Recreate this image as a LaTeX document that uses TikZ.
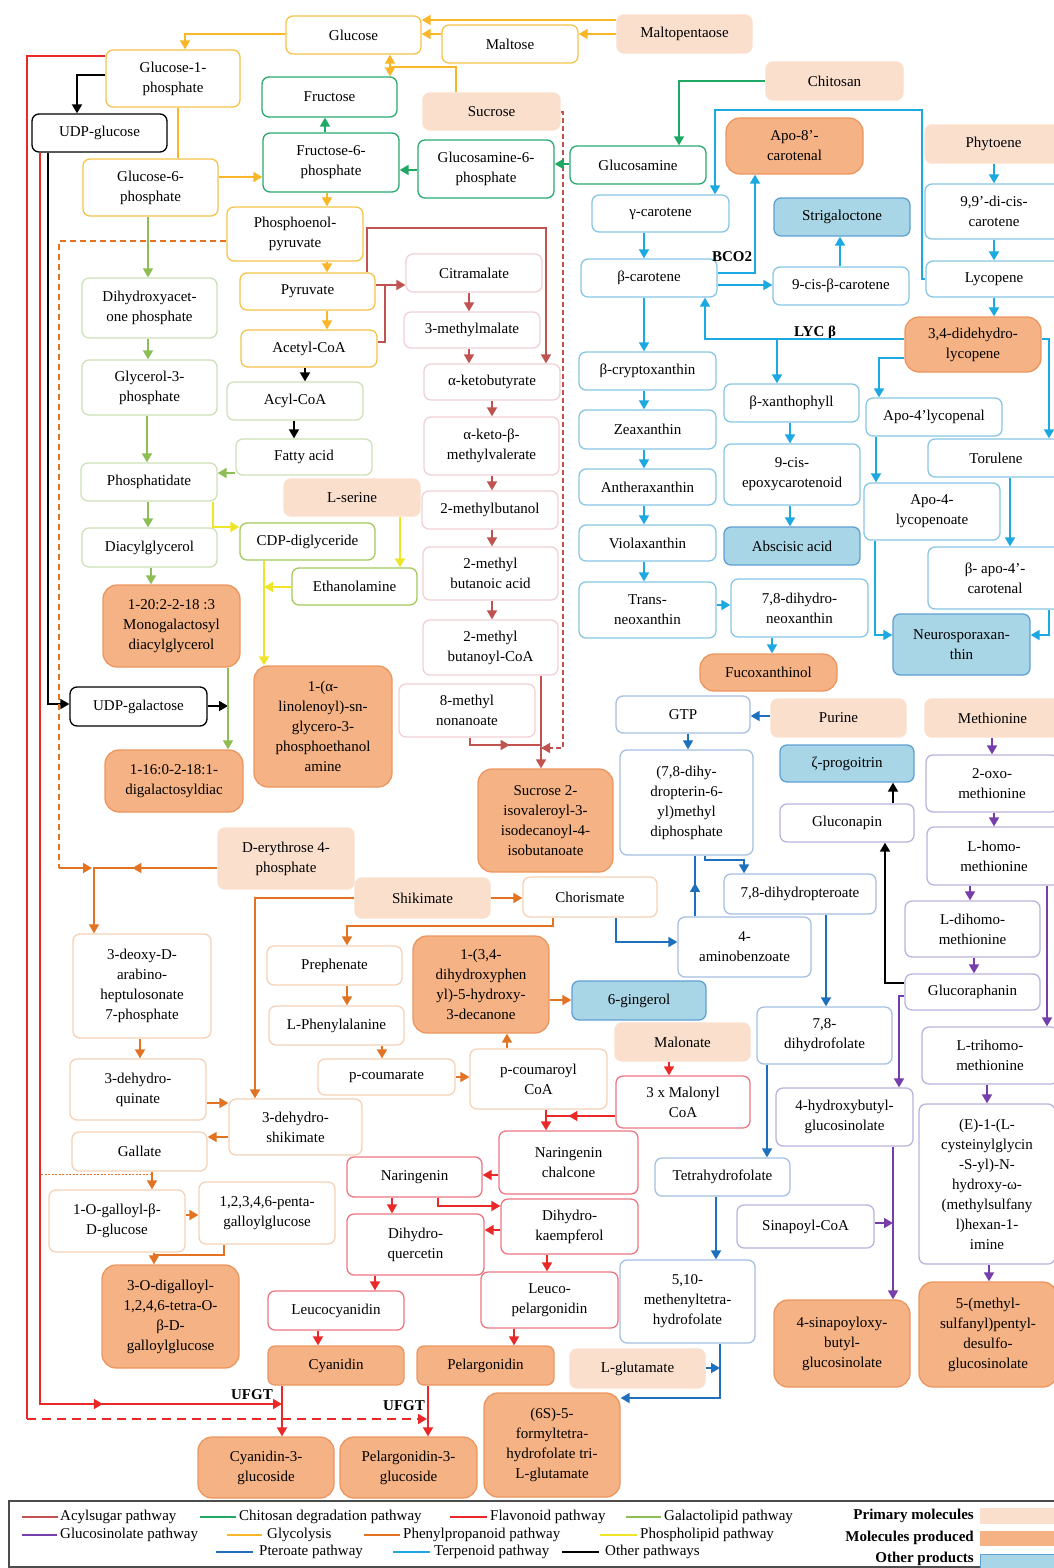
\documentclass[tikz,border=0pt]{standalone}
\usepackage{fontspec}
\setmainfont{Liberation Serif}
\usetikzlibrary{arrows.meta,decorations.markings}
\definecolor{cGly}{RGB}{248,182,40}
\definecolor{cChi}{RGB}{30,168,100}
\definecolor{cGal}{RGB}{140,190,85}
\definecolor{cAcy}{RGB}{192,82,80}
\definecolor{cFla}{RGB}{235,40,40}
\definecolor{cTer}{RGB}{28,168,225}
\definecolor{cPte}{RGB}{30,112,190}
\definecolor{cGls}{RGB}{118,62,170}
\definecolor{cPhe}{RGB}{226,115,35}
\definecolor{cPho}{RGB}{238,228,40}
\definecolor{cPrim}{RGB}{250,223,205}
\definecolor{cProd}{RGB}{245,178,132}
\definecolor{cProdB}{RGB}{236,150,95}
\definecolor{cOth}{RGB}{168,214,230}
\definecolor{cOthB}{RGB}{95,160,210}
\definecolor{bGly}{RGB}{245,195,75}
\definecolor{bChi}{RGB}{40,170,110}
\definecolor{bGal}{RGB}{205,225,185}
\definecolor{bPho}{RGB}{165,200,95}
\definecolor{bAcy}{RGB}{240,208,212}
\definecolor{bTer}{RGB}{135,198,228}
\definecolor{bPte}{RGB}{165,192,225}
\definecolor{bGls}{RGB}{188,178,222}
\definecolor{bPhe}{RGB}{245,210,182}
\definecolor{bFla}{RGB}{236,118,128}
\newcommand\dfont{\fontsize{15}{20}\selectfont}
\newcommand\bx[7]{\node[box,#6,minimum width={(#4-#2)*1pt},minimum height={(#5-#3)*1pt}] (#1) at ({(#2+#4)/2},{(#3+#5)/2}) {#7};}
\tikzset{
 box/.style={draw, rounded corners=7pt, line width=1.3pt, fill=white, align=center, inner sep=1pt, font=\dfont, text=black},
 kGly/.style={draw=bGly}, kChi/.style={draw=bChi}, kGal/.style={draw=bGal}, kPho/.style={draw=bPho},
 kAcy/.style={draw=bAcy}, kTer/.style={draw=bTer}, kPte/.style={draw=bPte}, kGls/.style={draw=bGls},
 kPhe/.style={draw=bPhe}, kFla/.style={draw=bFla}, kOth/.style={draw=black},
 kPrim/.style={draw=cPrim, fill=cPrim},
 kProd/.style={draw=cProdB, fill=cProd, rounded corners=14pt},
 kBlue/.style={draw=cOthB, fill=cOth},
 ln/.style={line width=1.8pt},
 ar/.style={ln, -{Triangle[length=9pt,width=10pt]}},
 aGly/.style={ar,color=cGly}, lGly/.style={ln,color=cGly},
 aChi/.style={ar,color=cChi},
 aGal/.style={ar,color=cGal},
 aPho/.style={ar,color=cPho}, lPho/.style={ln,color=cPho},
 aAcy/.style={ar,color=cAcy}, lAcy/.style={ln,color=cAcy},
 aFla/.style={ar,color=cFla}, lFla/.style={ln,color=cFla},
 aTer/.style={ar,color=cTer},
 aPte/.style={ar,color=cPte}, lPte/.style={ln,color=cPte},
 aGls/.style={ar,color=cGls},
 aPhe/.style={ar,color=cPhe}, lPhe/.style={ln,color=cPhe},
 aOth/.style={ar,color=black},
 midarrow/.style={postaction={decorate,decoration={markings,mark=at position #1 with {\arrow{Triangle[length=9pt,width=10pt]}}}}},
 lbl/.style={font=\dfont\bfseries, inner sep=0pt},
 leg/.style={font=\dfont, anchor=west, inner sep=0pt},
 legr/.style={font=\dfont\bfseries, anchor=east, inner sep=0pt},
 legl/.style={line width=2.4pt},
}
\begin{document}
\begin{tikzpicture}[x=1pt,y=-1pt]
\useasboundingbox (0,0) rectangle (1054,1568);
% ---------------- nodes ----------------
\bx{glc}{286}{16}{421}{54}{kGly}{Glucose}
\bx{mal}{442}{25}{578}{63}{kGly}{Maltose}
\bx{mpt}{617}{15}{752}{53}{kPrim}{Maltopentaose}
\bx{chi}{766}{62}{903}{100}{kPrim}{Chitosan}
\bx{g1p}{106}{50}{240}{107}{kGly}{Glucose-1-\\phosphate}
\bx{udpg}{32}{114}{167}{152}{kOth}{UDP-glucose}
\bx{fru}{262}{77}{397}{117}{kChi}{Fructose}
\bx{suc}{423}{93}{560}{130}{kPrim}{Sucrose}
\bx{f6p}{263}{133}{399}{192}{kChi}{Fructose-6-\\phosphate}
\bx{gn6p}{418}{140}{554}{198}{kChi}{Glucosamine-6-\\phosphate}
\bx{gn}{570}{146}{706}{184}{kChi}{Glucosamine}
\bx{apo8}{726}{118}{863}{174}{kProd}{Apo-8’-\\carotenal}
\bx{phy}{925}{125}{1062}{163}{kPrim}{Phytoene}
\bx{g6p}{83}{159}{218}{216}{kGly}{Glucose-6-\\phosphate}
\bx{pep}{227}{207}{363}{261}{kGly}{Phosphoenol-\\pyruvate}
\bx{gcar}{592}{195}{729}{232}{kTer}{γ-carotene}
\bx{strig}{774}{198}{910}{236}{kBlue}{Strigaloctone}
\bx{dicis}{925}{184}{1063}{239}{kTer}{9,9’-di-cis-\\carotene}
\bx{bcar}{581}{259}{717}{297}{kTer}{β-carotene}
\bx{cisb}{773}{267}{909}{305}{kTer}{9-cis-β-carotene}
\bx{lyc}{926}{261}{1062}{297}{kTer}{Lycopene}
\bx{dhlyc}{905}{317}{1041}{372}{kProd}{3,4-didehydro-\\lycopene}
\bx{dhap}{82}{278}{217}{338}{kGal}{Dihydroxyacet-\\one phosphate}
\bx{pyr}{240}{273}{375}{310}{kGly}{Pyruvate}
\bx{citr}{406}{254}{542}{292}{kAcy}{Citramalate}
\bx{acoa}{241}{330}{377}{367}{kGly}{Acetyl-CoA}
\bx{mm3}{404}{312}{540}{348}{kAcy}{3-methylmalate}
\bx{kbut}{424}{364}{560}{400}{kAcy}{α-ketobutyrate}
\bx{bcry}{579}{352}{716}{390}{kTer}{β-cryptoxanthin}
\bx{bxan}{724}{384}{859}{422}{kTer}{β-xanthophyll}
\bx{apo4al}{866}{398}{1002}{436}{kTer}{Apo-4’lycopenal}
\bx{g3p}{82}{360}{217}{415}{kGal}{Glycerol-3-\\phosphate}
\bx{acyl}{227}{382}{363}{420}{kGal}{Acyl-CoA}
\bx{fatty}{236}{439}{372}{475}{kGal}{Fatty acid}
\bx{pa}{81}{463}{217}{501}{kGal}{Phosphatidate}
\bx{ser}{284}{479}{420}{516}{kPrim}{L-serine}
\bx{kmv}{424}{417}{559}{475}{kAcy}{α-keto-β-\\methylvalerate}
\bx{mbol}{422}{491}{558}{529}{kAcy}{2-methylbutanol}
\bx{mbac}{423}{547}{558}{600}{kAcy}{2-methyl\\butanoic acid}
\bx{mbcoa}{423}{620}{558}{675}{kAcy}{2-methyl\\butanoyl-CoA}
\bx{mnon}{399}{684}{535}{737}{kAcy}{8-methyl\\nonanoate}
\bx{zea}{579}{410}{716}{449}{kTer}{Zeaxanthin}
\bx{anth}{579}{469}{716}{505}{kTer}{Antheraxanthin}
\bx{viol}{579}{525}{716}{561}{kTer}{Violaxanthin}
\bx{tneo}{579}{582}{716}{638}{kTer}{Trans-\\neoxanthin}
\bx{epox}{724}{444}{860}{505}{kTer}{9-cis-\\epoxycarotenoid}
\bx{aba}{724}{527}{860}{565}{kBlue}{Abscisic acid}
\bx{tor}{928}{439}{1064}{477}{kTer}{Torulene}
\bx{apo4oate}{864}{483}{1000}{540}{kTer}{Apo-4-\\lycopenoate}
\bx{bapo}{928}{547}{1062}{609}{kTer}{β- apo-4’-\\carotenal}
\bx{dhneo}{731}{579}{868}{637}{kTer}{7,8-dihydro-\\neoxanthin}
\bx{neuro}{893}{614}{1030}{675}{kBlue}{Neurosporaxan-\\thin}
\bx{fuco}{700}{654}{837}{691}{kProd}{Fucoxanthinol}
\bx{dag}{82}{528}{217}{567}{kGal}{Diacylglycerol}
\bx{cdp}{240}{523}{375}{560}{kPho}{CDP-diglyceride}
\bx{eth}{292}{568}{417}{605}{kPho}{Ethanolamine}
\bx{mgdg}{103}{585}{240}{667}{kProd}{1-20:2-2-18 :3\\Monogalactosyl\\diacylglycerol}
\bx{udpgal}{70}{687}{207}{726}{kOth}{UDP-galactose}
\bx{lin}{254}{666}{392}{787}{kProd}{1-(α-\\linolenoyl)-sn-\\glycero-3-\\phosphoethanol\\amine}
\bx{dgdg}{105}{750}{243}{812}{kProd}{1-16:0-2-18:1-\\digalactosyldiac}
\bx{suc2}{478}{769}{613}{872}{kProd}{Sucrose 2-\\isovaleroyl-3-\\isodecanoyl-4-\\isobutanoate}
\bx{gtp}{616}{696}{750}{733}{kPte}{GTP}
\bx{pur}{771}{699}{906}{737}{kPrim}{Purine}
\bx{met}{925}{699}{1060}{737}{kPrim}{Methionine}
\bx{prog}{780}{745}{914}{782}{kBlue}{ζ-progoitrin}
\bx{oxo}{926}{755}{1058}{812}{kGls}{2-oxo-\\methionine}
\bx{dpd}{620}{750}{753}{855}{kPte}{(7,8-dihy-\\dropterin-6-\\yl)methyl\\diphosphate}
\bx{gnap}{780}{804}{914}{842}{kGls}{Gluconapin}
\bx{hmet}{927}{827}{1061}{885}{kGls}{L-homo-\\methionine}
\bx{dhpt}{724}{874}{876}{914}{kPte}{7,8-dihydropteroate}
\bx{pab}{678}{917}{811}{977}{kPte}{4-\\aminobenzoate}
\bx{dhmet}{905}{901}{1040}{957}{kGls}{L-dihomo-\\methionine}
\bx{graph}{905}{974}{1040}{1010}{kGls}{Glucoraphanin}
\bx{dhf}{757}{1007}{892}{1064}{kPte}{7,8-\\dihydrofolate}
\bx{thmet}{922}{1027}{1058}{1084}{kGls}{L-trihomo-\\methionine}
\bx{hbg}{776}{1088}{913}{1146}{kGls}{4-hydroxybutyl-\\glucosinolate}
\bx{ecys}{919}{1104}{1055}{1264}{kGls}{(E)-1-(L-\\cysteinylglycin\\-S-yl)-N-\\hydroxy-ω-\\(methylsulfany\\l)hexan-1-\\imine}
\bx{sin}{737}{1205}{874}{1248}{kGls}{Sinapoyl-CoA}
\bx{sinb}{774}{1300}{910}{1387}{kProd}{4-sinapoyloxy-\\butyl-\\glucosinolate}
\bx{msp}{919}{1282}{1057}{1387}{kProd}{5-(methyl-\\sulfanyl)pentyl-\\desulfo-\\glucosinolate}
\bx{d4p}{218}{828}{354}{889}{kPrim}{D-erythrose 4-\\phosphate}
\bx{shik}{355}{878}{490}{918}{kPrim}{Shikimate}
\bx{chor}{523}{877}{657}{917}{kPhe}{Chorismate}
\bx{dahp}{73}{934}{211}{1038}{kPhe}{3-deoxy-D-\\arabino-\\heptulosonate\\7-phosphate}
\bx{preph}{267}{946}{402}{985}{kPhe}{Prephenate}
\bx{dhpd}{413}{936}{549}{1033}{kProd}{1-(3,4-\\dihydroxyphen\\yl)-5-hydroxy-\\3-decanone}
\bx{phe}{269}{1006}{404}{1045}{kPhe}{L-Phenylalanine}
\bx{ging}{572}{981}{706}{1020}{kBlue}{6-gingerol}
\bx{maln}{615}{1023}{750}{1061}{kPrim}{Malonate}
\bx{pcm}{318}{1059}{455}{1095}{kPhe}{p-coumarate}
\bx{pcoa}{470}{1049}{607}{1109}{kPhe}{p-coumaroyl\\CoA}
\bx{mcoa}{616}{1076}{750}{1128}{kFla}{3 x Malonyl\\CoA}
\bx{dhq}{70}{1059}{206}{1120}{kPhe}{3-dehydro-\\quinate}
\bx{dhs}{229}{1099}{362}{1155}{kPhe}{3-dehydro-\\shikimate}
\bx{gall}{72}{1132}{207}{1171}{kPhe}{Gallate}
\bx{nchal}{499}{1131}{638}{1194}{kFla}{Naringenin\\chalcone}
\bx{thf}{655}{1158}{790}{1196}{kPte}{Tetrahydrofolate}
\bx{nar}{347}{1157}{482}{1197}{kFla}{Naringenin}
\bx{ogal}{49}{1190}{185}{1252}{kPhe}{1-O-galloyl-β-\\D-glucose}
\bx{pgg}{199}{1182}{335}{1244}{kPhe}{1,2,3,4,6-penta-\\galloylglucose}
\bx{dhk}{501}{1199}{638}{1254}{kFla}{Dihydro-\\kaempferol}
\bx{dhqu}{347}{1214}{484}{1275}{kFla}{Dihydro-\\quercetin}
\bx{mthf}{620}{1260}{755}{1343}{kPte}{5,10-\\methenyltetra-\\hydrofolate}
\bx{lcy}{268}{1291}{404}{1330}{kFla}{Leucocyanidin}
\bx{lpel}{481}{1272}{618}{1328}{kFla}{Leuco-\\pelargonidin}
\bx{dgal}{102}{1265}{239}{1368}{kProd}{3-O-digalloyl-\\1,2,4,6-tetra-O-\\β-D-\\galloylglucose}
\bx{cya}{268}{1346}{404}{1385}{kProd,rounded corners=7pt}{Cyanidin}
\bx{pel}{417}{1346}{554}{1385}{kProd,rounded corners=7pt}{Pelargonidin}
\bx{glu}{570}{1349}{705}{1388}{kPrim}{L-glutamate}
\bx{fthf}{484}{1393}{620}{1497}{kProd}{(6S)-5-\\formyltetra-\\hydrofolate tri-\\L-glutamate}
\bx{c3g}{198}{1437}{334}{1498}{kProd}{Cyanidin-3-\\glucoside}
\bx{p3g}{340}{1437}{477}{1498}{kProd}{Pelargonidin-3-\\glucoside}
\node[lbl] (bco) at (732,257) {BCO2};
\node[lbl] (lycb) at (815,333) {LYC β};
\node[lbl] (ufgt1) at (252,1395) {UFGT};
\node[lbl] (ufgt2) at (404,1406) {UFGT};
% ---------------- glycolysis ----------------
\draw[aGly] (mpt.west |- 0,20) -- (glc.east |- 0,20);
\draw[aGly] (mpt.west |- 0,34) -- (mal.east |- 0,34);
\draw[aGly] (mal.west |- 0,34) -- (glc.east |- 0,34);
\draw[lGly,{Triangle[length=9pt,width=10pt]}-{Triangle[length=9pt,width=10pt]}] (glc.south -| 390,0) -- (fru.north -| 390,0);
\draw[lGly] (suc.north -| 456,0) |- (390,67);
\draw[aGly] (glc.west |- 0,34) -| (g1p.north -| 185,0);
\draw[lGly] (g1p.south -| 178,0) -- (g6p.north -| 178,0);
\draw[aGly] (g6p.east |- 0,177) -- (f6p.west |- 0,177);
\draw[aGly] (f6p.south -| 327,0) -- (pep.north -| 327,0);
\draw[aGly] (pep.south -| 327,0) -- (pyr.north -| 327,0);
\draw[aGly] (pyr.south -| 327,0) -- (acoa.north -| 327,0);
% ---------------- other ----------------
\draw[aOth] (g1p.west |- 0,75) -| (udpg.north -| 77,0);
\draw[aOth] (acoa.south -| 305,0) -- (acyl.north -| 305,0);
\draw[aOth] (acyl.south -| 294,0) -- (fatty.north -| 294,0);
\draw[aOth] (udpg.south -| 48,0) |- (udpgal.west |- 0,704);
\draw[aOth] (udpgal.east |- 0,706) -- (228,706);
\draw[aOth] (gnap.north -| 893,0) -- (prog.south -| 893,0);
\draw[aOth] (graph.west |- 0,983) -| (gnap.south -| 885,0);
% ---------------- flavonoid ----------------
\draw[lFla] (g1p.west |- 0,56) -| (27,1419);
\draw[aFla,dash pattern=on 9pt off 6pt] (27,1419) -- (427,1419);
\draw[aFla,midarrow=0.88] (udpg.south -| 40,0) |- (282,1404);
\draw[aFla] (cya.south -| 282,0) -- (c3g.north -| 282,0);
\draw[aFla] (pel.south -| 428,0) -- (p3g.north -| 428,0);
\draw[aFla] (maln.south -| 669,0) -- (mcoa.north -| 669,0);
\draw[lFla] (pcoa.south -| 546,0) -- (546,1116);
\draw[aFla,midarrow=0.56] (mcoa.west |- 0,1116) -| (nchal.north -| 546,0);
\draw[aFla] (nchal.west |- 0,1175) -- (nar.east |- 0,1175);
\draw[aFla] (nar.south -| 438,0) |- (dhk.west |- 0,1206);
\draw[aFla] (nar.south -| 392,0) -- (dhqu.north -| 392,0);
\draw[aFla] (dhk.west |- 0,1230) -- (dhqu.east |- 0,1230);
\draw[aFla] (dhk.south -| 547,0) -- (lpel.north -| 547,0);
\draw[aFla] (dhqu.south -| 375,0) -- (lcy.north -| 375,0);
\draw[aFla] (lcy.south -| 318,0) -- (cya.north -| 318,0);
\draw[aFla] (lpel.south -| 514,0) -- (pel.north -| 514,0);
% ---------------- acylsugar ----------------
\draw[aAcy] (pyr.east |- 0,285) -- (citr.west |- 0,285);
\draw[lAcy] (acoa.east |- 0,342) -| (385,285);
\draw[aAcy] (pyr.north -| 367,0) |- (546,228) -- (kbut.north -| 546,0);
\draw[aAcy] (citr.south -| 469,0) -- (mm3.north -| 469,0);
\draw[aAcy] (mm3.south -| 469,0) -- (kbut.north -| 469,0);
\draw[aAcy] (kbut.south -| 492,0) -- (kmv.north -| 492,0);
\draw[aAcy] (kmv.south -| 492,0) -- (mbol.north -| 492,0);
\draw[aAcy] (mbol.south -| 492,0) -- (mbac.north -| 492,0);
\draw[aAcy] (mbac.south -| 492,0) -- (mbcoa.north -| 492,0);
\draw[aAcy] (mbcoa.south -| 541,0) -- (suc2.north -| 541,0);
\draw[lAcy,midarrow=0.6] (mnon.south -| 470,0) |- (541,745);
\draw[aAcy,line width=1.3pt,dash pattern=on 5pt off 3pt] (suc.east |- 0,112) -| (563,748) -- (541,748);
% ---------------- galactolipid ----------------
\draw[aGal] (g6p.south -| 148,0) -- (dhap.north -| 148,0);
\draw[aGal] (dhap.south -| 148,0) -- (g3p.north -| 148,0);
\draw[aGal] (g3p.south -| 147,0) -- (pa.north -| 147,0);
\draw[aGal] (fatty.west |- 0,473) -- (pa.east |- 0,473);
\draw[aGal] (pa.south -| 148,0) -- (dag.north -| 148,0);
\draw[aGal] (dag.south -| 151,0) -- (mgdg.north -| 151,0);
\draw[aGal] (mgdg.south -| 228,0) -- (dgdg.north -| 228,0);
% ---------------- phospholipid ----------------
\draw[aPho] (pa.south -| 213,0) |- (cdp.west |- 0,527);
\draw[aPho] (ser.south -| 400,0) -- (eth.north -| 400,0);
\draw[aPho] (cdp.south -| 264,0) -- (lin.north -| 264,0);
\draw[aPho] (eth.west |- 0,587) -- (264,587);
% ---------------- chitosan ----------------
\draw[aChi] (chi.west) -| (gn.north -| 679,0);
\draw[aChi] (gn.west |- 0,164) -- (gn6p.east |- 0,164);
\draw[aChi] (gn6p.west |- 0,170) -- (f6p.east |- 0,170);
\draw[aChi] (f6p.north -| 325,0) -- (fru.south -| 325,0);
% ---------------- terpenoid ----------------
\draw[aTer] (lyc.west) -| (922,110) -| (gcar.north -| 715,0);
\draw[aTer] (phy.south -| 994,0) -- (dicis.north -| 994,0);
\draw[aTer] (dicis.south -| 994,0) -- (lyc.north -| 994,0);
\draw[aTer] (lyc.south -| 994,0) -- (dhlyc.north -| 994,0);
\draw[aTer] (gcar.south -| 644,0) -- (bcar.north -| 644,0);
\draw[aTer] (bcar.east |- 0,273) -| (apo8.south -| 755,0);
\draw[aTer] (bcar.east |- 0,285) -- (cisb.west |- 0,285);
\draw[aTer] (cisb.north -| 840,0) -- (strig.south -| 840,0);
\draw[aTer] (dhlyc.west |- 0,339) -| (bcar.south -| 705,0);
\coordinate (brx) at (777,339);
\draw[aTer] (brx) -- (bxan.north -| 777,0);
\draw[aTer] (bcar.south -| 644,0) -- (bcry.north -| 644,0);
\draw[aTer] (bcry.south -| 644,0) -- (zea.north -| 644,0);
\draw[aTer] (zea.south -| 644,0) -- (anth.north -| 644,0);
\draw[aTer] (anth.south -| 644,0) -- (viol.north -| 644,0);
\draw[aTer] (viol.south -| 644,0) -- (tneo.north -| 644,0);
\draw[aTer] (tneo.east |- 0,605) -- (dhneo.west |- 0,605);
\draw[aTer] (dhneo.south -| 772,0) -- (fuco.north -| 772,0);
\draw[aTer] (bxan.south -| 790,0) -- (epox.north -| 790,0);
\draw[aTer] (epox.south -| 790,0) -- (aba.north -| 790,0);
\draw[aTer] (dhlyc.west |- 0,358) -| (apo4al.north -| 879,0);
\draw[aTer] (dhlyc.east |- 0,339) -| (tor.north -| 1049,0);
\draw[aTer] (apo4al.south -| 876,0) -- (apo4oate.north -| 876,0);
\draw[aTer] (apo4oate.south -| 875,0) |- (neuro.west |- 0,635);
\draw[aTer] (tor.south -| 1010,0) -- (bapo.north -| 1010,0);
\draw[aTer] (bapo.south -| 1049,0) |- (neuro.east |- 0,635);
% ---------------- pteroate ----------------
\draw[aPte] (pur.west |- 0,716) -- (gtp.east |- 0,716);
\draw[aPte] (gtp.south -| 688,0) -- (dpd.north -| 688,0);
\draw[lPte,midarrow=0.55] (pab.north -| 695,0) -- (dpd.south -| 695,0);
\draw[aPte] (dpd.south -| 705,0) |- (744,860) -- (dhpt.north -| 744,0);
\draw[aPte] (chor.south -| 616,0) |- (pab.west |- 0,942);
\draw[aPte] (dhpt.south -| 826,0) -- (dhf.north -| 826,0);
\draw[aPte] (dhf.south -| 767,0) -- (thf.north -| 767,0);
\draw[aPte] (thf.south -| 716,0) -- (mthf.north -| 716,0);
\draw[aPte] (mthf.south -| 720,0) |- (fthf.east |- 0,1398);
\draw[aPte] (glu.east |- 0,1368) -- (720,1368);
% ---------------- phenylpropanoid ----------------
\draw[lPhe,dash pattern=on 6pt off 4pt] (pep.west |- 0,241) -| (59,868);
\draw[aPhe] (59,868) -- (92,868);
\draw[aPhe,midarrow=0.45] (d4p.west |- 0,868) -| (dahp.north -| 94,0);
\draw[aPhe] (dahp.south -| 140,0) -- (dhq.north -| 140,0);
\draw[aPhe] (dhq.east |- 0,1103) -- (dhs.west |- 0,1103);
\draw[aPhe] (dhs.west |- 0,1137) -- (gall.east |- 0,1137);
\draw[aPhe] (shik.west |- 0,898) -| (dhs.north -| 255,0);
\draw[aPhe] (shik.east |- 0,898) -- (chor.west |- 0,898);
\draw[aPhe] (chor.south -| 553,0) |- (347,926) -- (preph.north -| 347,0);
\draw[aPhe] (preph.south -| 347,0) -- (phe.north -| 347,0);
\draw[aPhe] (phe.south -| 382,0) -- (pcm.north -| 382,0);
\draw[aPhe] (pcm.east |- 0,1077) -- (pcoa.west |- 0,1077);
\draw[aPhe] (pcoa.north -| 507,0) -- (dhpd.south -| 507,0);
\draw[aPhe] (dhpd.east |- 0,1000) -- (ging.west |- 0,1000);
\draw[color=cPhe,line width=0.9pt,dash pattern=on 2pt off 1.5pt] (41,1174) -- (152,1174);
\draw[aPhe] (gall.south -| 152,0) -- (ogal.north -| 152,0);
\draw[aPhe] (ogal.east |- 0,1215) -- (pgg.west |- 0,1215);
\draw[lPhe] (ogal.south -| 154,0) -- (154,1255);
\draw[aPhe] (pgg.south -| 224,0) |- (154,1255) -- (dgal.north -| 154,0);
% ---------------- glucosinolate ----------------
\draw[aGls] (met.south -| 992,0) -- (oxo.north -| 992,0);
\draw[aGls] (oxo.south -| 994,0) -- (hmet.north -| 994,0);
\draw[aGls] (hmet.south -| 970,0) -- (dhmet.north -| 970,0);
\draw[aGls] (hmet.south -| 1047,0) -- (thmet.north -| 1047,0);
\draw[aGls] (dhmet.south -| 974,0) -- (graph.north -| 974,0);
\draw[aGls] (graph.west |- 0,996) -| (hbg.north -| 899,0);
\draw[aGls] (thmet.south -| 987,0) -- (ecys.north -| 987,0);
\draw[aGls] (ecys.south -| 989,0) -- (msp.north -| 989,0);
\draw[aGls] (hbg.south -| 893,0) -- (sinb.north -| 893,0);
\draw[aGls] (sin.east |- 0,1223) -- (893,1223);
% ---------------- legend ----------------
\draw[black!70,line width=1.6pt] (9,1501) rectangle (1060,1567);
\draw[legl,cAcy] (22,1517) -- (58,1517); \node[leg] (l1) at (60,1517) {Acylsugar pathway};
\draw[legl,cChi] (200,1517) -- (236,1517); \node[leg] (l2) at (239,1517) {Chitosan degradation pathway};
\draw[legl,cFla] (450,1517) -- (487,1517); \node[leg] (l3) at (490,1517) {Flavonoid pathway};
\draw[legl,cGal] (626,1517) -- (661,1517); \node[leg] (l4) at (664,1517) {Galactolipid pathway};
\draw[legl,cGls] (22,1535) -- (57,1535); \node[leg] (l5) at (60,1535) {Glucosinolate pathway};
\draw[legl,cGly] (227,1535) -- (262,1535); \node[leg] (l6) at (267,1535) {Glycolysis};
\draw[legl,cPhe] (364,1535) -- (400,1535); \node[leg] (l7) at (403,1535) {Phenylpropanoid pathway};
\draw[legl,cPho] (600,1535) -- (637,1535); \node[leg] (l8) at (640,1535) {Phospholipid pathway};
\draw[legl,cPte] (216,1552) -- (253,1552); \node[leg] (l9) at (259,1552) {Pteroate pathway};
\draw[legl,cTer] (393,1552) -- (430,1552); \node[leg] (l10) at (434,1552) {Terpenoid pathway};
\draw[legl,black] (562,1552) -- (599,1552); \node[leg] (l11) at (605,1552) {Other pathways};
\node[legr] (r1) at (974,1516) {Primary molecules};
\node[legr] (r2) at (974,1538) {Molecules produced};
\node[legr] (r3) at (974,1559) {Other products};
\fill[cPrim] (980,1508) rectangle (1054,1524);
\fill[cProd] (980,1531) rectangle (1054,1546);
\draw[cOthB,fill=cOth,line width=1pt] (980,1554) rectangle (1058,1570);
\end{tikzpicture}
\end{document}
